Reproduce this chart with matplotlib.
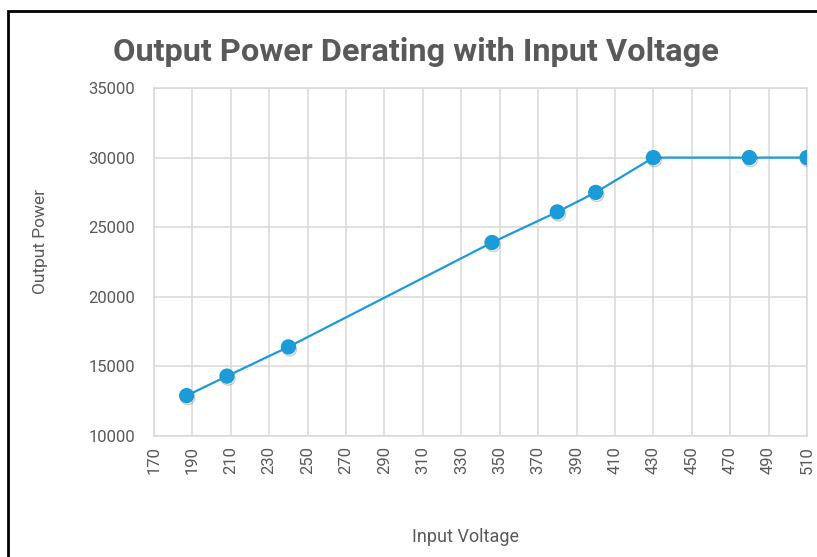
import matplotlib
matplotlib.use("Agg")
import matplotlib.pyplot as plt
import matplotlib.patheffects as pe
from matplotlib.patches import Rectangle

# data
voltage = [187, 208, 240, 346, 380, 400, 430, 480, 510]
power = [12900, 14300, 16400, 23900, 26100, 27500, 30000, 30000, 30000]
x_ticks = list(range(170, 511, 20))
y_ticks = list(range(10000, 35001, 5000))

grey_txt = "#595959"
grid_col = "#D9D9D9"
blue = "#1B9BD7"
narrow = ["Roboto", "DejaVu Sans"]

fig = plt.figure(figsize=(8.17, 5.57), dpi=100)
ax = fig.add_axes([154 / 817, 1 - 436 / 557, (807 - 154) / 817, (436 - 88) / 557])

ax.plot(voltage, power, color=blue, lw=1.6, zorder=3)
ax.plot(voltage, power, ls="none", marker="o", markersize=10,
        markerfacecolor=blue, markeredgecolor=blue, zorder=4,
        path_effects=[pe.SimpleLineShadow(offset=(0.8, -1.5), shadow_color="black", alpha=0.2),
                      pe.Normal()])

ax.set_xlim(170, 510)
ax.set_ylim(10000, 35000)
ax.set_xticks(x_ticks)
ax.set_yticks(y_ticks)
ax.set_xticklabels([str(v) for v in x_ticks], rotation=90)
ax.tick_params(length=0, labelsize=12, labelcolor=grey_txt)
ax.tick_params(axis="x", pad=7)
ax.tick_params(axis="y", pad=13.5)
for lab in ax.get_xticklabels() + ax.get_yticklabels():
    lab.set_family(narrow)
ax.grid(True, color=grid_col, lw=1.1)
ax.set_axisbelow(True)
for s in ax.spines.values():
    s.set_color(grid_col)
    s.set_linewidth(1.1)

fig.text(0.509, 0.906, "Output Power Derating with Input Voltage", ha="center", va="center",
         fontsize=23.4, fontweight="bold", color=grey_txt, family=narrow)
fig.text(465 / 817, 1 - 537 / 557, "Input Voltage", ha="center", va="center",
         fontsize=13, color=grey_txt, family=narrow)
fig.text(40 / 817, 1 - 241 / 557, "Output Power", ha="center", va="center",
         rotation=90, fontsize=12.5, color=grey_txt, family=narrow)

# black frame of the screenshot (left and top edges visible)
fig.add_artist(Rectangle((8 / 817, -0.2), 1.5, 1.2 - 11 / 557, transform=fig.transFigure,
                         fill=False, edgecolor="black", lw=2, clip_on=False))

fig.savefig("out.png", dpi=100)
